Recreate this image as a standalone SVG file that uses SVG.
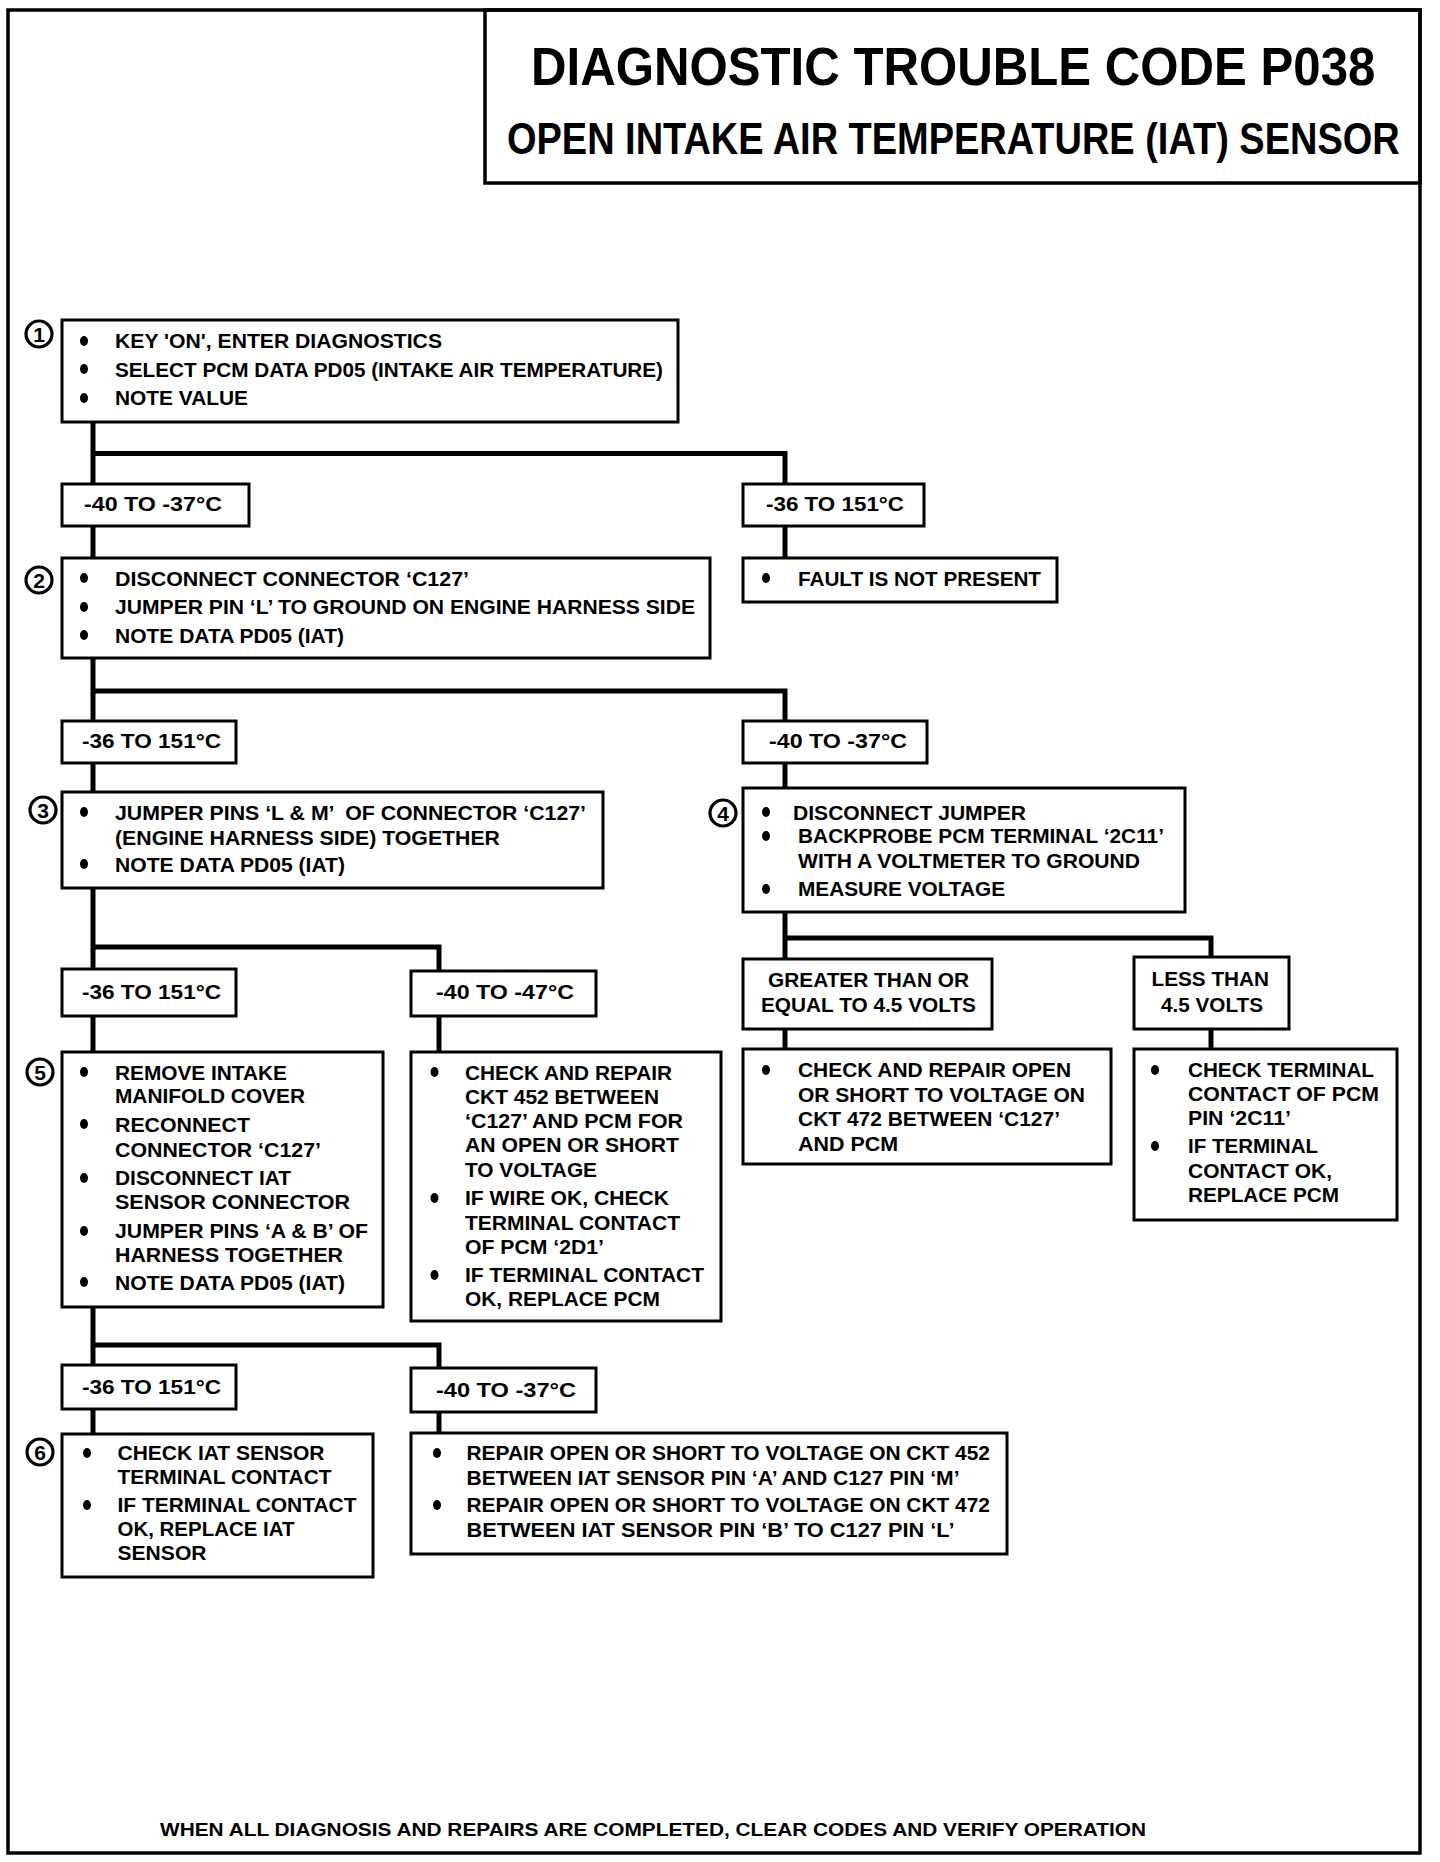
<svg xmlns="http://www.w3.org/2000/svg" width="1440" height="1862" viewBox="0 0 1440 1862">
<style>
.t{font-family:"Liberation Sans",Arial,Helvetica,sans-serif;font-weight:bold;font-size:21px;fill:#000}
.h1{font-size:54px}
.h2{font-size:44px}
.ft{font-size:19px}
.box{fill:#fff;stroke:#000;stroke-width:3}
.frame{fill:none;stroke:#000;stroke-width:3.5}
.conn{fill:none;stroke:#000;stroke-width:5;stroke-linejoin:miter}
.num{fill:#fff;stroke:#000;stroke-width:3.2}
.nt{font-family:"Liberation Sans",Arial,sans-serif;font-weight:bold;font-size:21px;fill:#000;text-anchor:middle}
.b{fill:#000}
</style>
<rect width="1440" height="1862" fill="#fff"/>
<rect class="frame" x="8" y="10" width="1412" height="1843"/>
<g id="title">
<rect class="frame" x="485" y="10" width="935" height="173"/>
<text class="t h1" transform="translate(531 85) scale(0.911 1)">DIAGNOSTIC TROUBLE CODE P038</text>
<text class="t h2" transform="translate(507 154) scale(0.863 1)">OPEN INTAKE AIR TEMPERATURE (IAT) SENSOR</text>
</g>
<g id="connectors">
<path class="conn" d="M93 422V484M93 526V558M93 453.5H785V484M785 526V558"/>
<path class="conn" d="M93 657V721M93 691H785V721M93 763V792M785 763V788"/>
<path class="conn" d="M93 888V969M93 947H439V971M93 1016V1052M439 1016V1052"/>
<path class="conn" d="M785 912V959M785 938H1211V957M785 1029V1049M1211 1029V1049"/>
<path class="conn" d="M93 1307V1365M93 1345H439V1368M93 1409V1434M439 1412V1433"/>
</g>
<g id="step1">
<rect class="box" x="62" y="320" width="616" height="102"/>
<circle class="num" cx="39" cy="334" r="13"/><text class="nt" x="39" y="341.5">1</text>
<ellipse class="b" cx="84" cy="341" rx="4" ry="5"/><ellipse class="b" cx="84" cy="369" rx="4" ry="5"/><ellipse class="b" cx="84" cy="398" rx="4" ry="5"/>
<text class="t" x="115" y="348" textLength="327" lengthAdjust="spacingAndGlyphs">KEY 'ON', ENTER DIAGNOSTICS</text>
<text class="t" x="115" y="377" textLength="548" lengthAdjust="spacingAndGlyphs">SELECT PCM DATA PD05 (INTAKE AIR TEMPERATURE)</text>
<text class="t" x="115" y="405" textLength="133" lengthAdjust="spacingAndGlyphs">NOTE VALUE</text>
</g>
<g id="r1a">
<rect class="box" x="62" y="484" width="187" height="42"/>
<text class="t" x="84" y="511" textLength="138" lengthAdjust="spacingAndGlyphs">-40 TO -37°C</text>
</g>
<g id="r1b">
<rect class="box" x="743" y="484" width="181" height="42"/>
<text class="t" x="766" y="511" textLength="138" lengthAdjust="spacingAndGlyphs">-36 TO 151°C</text>
</g>
<g id="fault">
<rect class="box" x="743" y="558" width="314" height="44"/>
<ellipse class="b" cx="766" cy="578" rx="4" ry="5"/>
<text class="t" x="798" y="586" textLength="243" lengthAdjust="spacingAndGlyphs">FAULT IS NOT PRESENT</text>
</g>
<g id="step2">
<rect class="box" x="62" y="558" width="648" height="100"/>
<circle class="num" cx="39" cy="580" r="13"/><text class="nt" x="39" y="587.5">2</text>
<ellipse class="b" cx="84" cy="578" rx="4" ry="5"/><ellipse class="b" cx="84" cy="607" rx="4" ry="5"/><ellipse class="b" cx="84" cy="635" rx="4" ry="5"/>
<text class="t" x="115" y="586" textLength="354" lengthAdjust="spacingAndGlyphs">DISCONNECT CONNECTOR ‘C127’</text>
<text class="t" x="115" y="614" textLength="580" lengthAdjust="spacingAndGlyphs">JUMPER PIN ‘L’ TO GROUND ON ENGINE HARNESS SIDE</text>
<text class="t" x="115" y="643" textLength="229" lengthAdjust="spacingAndGlyphs">NOTE DATA PD05 (IAT)</text>
</g>
<g id="r2a">
<rect class="box" x="62" y="721" width="174" height="42"/>
<text class="t" x="82" y="748" textLength="139" lengthAdjust="spacingAndGlyphs">-36 TO 151°C</text>
</g>
<g id="r2b">
<rect class="box" x="743" y="721" width="184" height="42"/>
<text class="t" x="769" y="748" textLength="138" lengthAdjust="spacingAndGlyphs">-40 TO -37°C</text>
</g>
<g id="step3">
<rect class="box" x="62" y="792" width="541" height="96"/>
<circle class="num" cx="43" cy="810" r="13"/><text class="nt" x="43" y="817.5">3</text>
<ellipse class="b" cx="84" cy="812" rx="4" ry="5"/><ellipse class="b" cx="84" cy="864" rx="4" ry="5"/>
<text class="t" x="115" y="820" textLength="471" lengthAdjust="spacingAndGlyphs" xml:space="preserve">JUMPER PINS ‘L &amp; M’  OF CONNECTOR ‘C127’</text>
<text class="t" x="115" y="845" textLength="385" lengthAdjust="spacingAndGlyphs">(ENGINE HARNESS SIDE) TOGETHER</text>
<text class="t" x="115" y="872" textLength="230" lengthAdjust="spacingAndGlyphs">NOTE DATA PD05 (IAT)</text>
</g>
<g id="step4">
<rect class="box" x="743" y="788" width="442" height="124"/>
<circle class="num" cx="723" cy="813" r="13"/><text class="nt" x="723" y="820.5">4</text>
<ellipse class="b" cx="766" cy="812" rx="4" ry="5"/><ellipse class="b" cx="766" cy="836" rx="4" ry="5"/><ellipse class="b" cx="766" cy="889" rx="4" ry="5"/>
<text class="t" x="793" y="820" textLength="233" lengthAdjust="spacingAndGlyphs">DISCONNECT JUMPER</text>
<text class="t" x="798" y="843" textLength="366" lengthAdjust="spacingAndGlyphs">BACKPROBE PCM TERMINAL ‘2C11’</text>
<text class="t" x="798" y="868" textLength="342" lengthAdjust="spacingAndGlyphs">WITH A VOLTMETER TO GROUND</text>
<text class="t" x="798" y="896" textLength="207" lengthAdjust="spacingAndGlyphs">MEASURE VOLTAGE</text>
</g>
<g id="v_ge">
<rect class="box" x="743" y="959" width="249" height="70"/>
<text class="t" x="768" y="987" textLength="201" lengthAdjust="spacingAndGlyphs">GREATER THAN OR</text>
<text class="t" x="761" y="1012" textLength="215" lengthAdjust="spacingAndGlyphs">EQUAL TO 4.5 VOLTS</text>
</g>
<g id="v_lt">
<rect class="box" x="1134" y="957" width="155" height="72"/>
<text class="t" x="1151.5" y="985.5" textLength="117.5" lengthAdjust="spacingAndGlyphs">LESS THAN</text>
<text class="t" x="1161" y="1012" textLength="102" lengthAdjust="spacingAndGlyphs">4.5 VOLTS</text>
</g>
<g id="ckt472">
<rect class="box" x="743" y="1049" width="368" height="115"/>
<ellipse class="b" cx="766" cy="1070" rx="4" ry="5"/>
<text class="t" x="798" y="1077" textLength="273" lengthAdjust="spacingAndGlyphs">CHECK AND REPAIR OPEN</text>
<text class="t" x="798" y="1102" textLength="287" lengthAdjust="spacingAndGlyphs">OR SHORT TO VOLTAGE ON</text>
<text class="t" x="798" y="1126" textLength="262" lengthAdjust="spacingAndGlyphs">CKT 472 BETWEEN ‘C127’</text>
<text class="t" x="798" y="1151" textLength="100" lengthAdjust="spacingAndGlyphs">AND PCM</text>
</g>
<g id="pcm2c11">
<rect class="box" x="1134" y="1049" width="263" height="171"/>
<ellipse class="b" cx="1155" cy="1070" rx="4" ry="5"/><ellipse class="b" cx="1155" cy="1146" rx="4" ry="5"/>
<text class="t" x="1188" y="1077" textLength="186" lengthAdjust="spacingAndGlyphs">CHECK TERMINAL</text>
<text class="t" x="1188" y="1101" textLength="191" lengthAdjust="spacingAndGlyphs">CONTACT OF PCM</text>
<text class="t" x="1188" y="1125" textLength="103" lengthAdjust="spacingAndGlyphs">PIN ‘2C11’</text>
<text class="t" x="1188" y="1153" textLength="130" lengthAdjust="spacingAndGlyphs">IF TERMINAL</text>
<text class="t" x="1188" y="1178" textLength="144" lengthAdjust="spacingAndGlyphs">CONTACT OK,</text>
<text class="t" x="1188" y="1202" textLength="151" lengthAdjust="spacingAndGlyphs">REPLACE PCM</text>
</g>
<g id="r3a">
<rect class="box" x="62" y="969" width="174" height="47"/>
<text class="t" x="82" y="999" textLength="139" lengthAdjust="spacingAndGlyphs">-36 TO 151°C</text>
</g>
<g id="r3b">
<rect class="box" x="411" y="971" width="185" height="45"/>
<text class="t" x="436" y="999" textLength="138" lengthAdjust="spacingAndGlyphs">-40 TO -47°C</text>
</g>
<g id="step5">
<rect class="box" x="62" y="1052" width="321" height="255"/>
<circle class="num" cx="40" cy="1072" r="13"/><text class="nt" x="40" y="1079.5">5</text>
<ellipse class="b" cx="84" cy="1072" rx="4" ry="5"/><ellipse class="b" cx="84" cy="1124" rx="4" ry="5"/><ellipse class="b" cx="84" cy="1178" rx="4" ry="5"/><ellipse class="b" cx="84" cy="1231" rx="4" ry="5"/><ellipse class="b" cx="84" cy="1282" rx="4" ry="5"/>
<text class="t" x="115" y="1080" textLength="172" lengthAdjust="spacingAndGlyphs">REMOVE INTAKE</text>
<text class="t" x="115" y="1103" textLength="190" lengthAdjust="spacingAndGlyphs">MANIFOLD COVER</text>
<text class="t" x="115" y="1132" textLength="135" lengthAdjust="spacingAndGlyphs">RECONNECT</text>
<text class="t" x="115" y="1157" textLength="206" lengthAdjust="spacingAndGlyphs">CONNECTOR ‘C127’</text>
<text class="t" x="115" y="1185" textLength="176" lengthAdjust="spacingAndGlyphs">DISCONNECT IAT</text>
<text class="t" x="115" y="1209" textLength="235" lengthAdjust="spacingAndGlyphs">SENSOR CONNECTOR</text>
<text class="t" x="115" y="1238" textLength="253" lengthAdjust="spacingAndGlyphs">JUMPER PINS ‘A &amp; B’ OF</text>
<text class="t" x="115" y="1262" textLength="228" lengthAdjust="spacingAndGlyphs">HARNESS TOGETHER</text>
<text class="t" x="115" y="1290" textLength="230" lengthAdjust="spacingAndGlyphs">NOTE DATA PD05 (IAT)</text>
</g>
<g id="ckt452">
<rect class="box" x="411" y="1052" width="310" height="269"/>
<ellipse class="b" cx="434.5" cy="1072" rx="4" ry="5"/><ellipse class="b" cx="434.5" cy="1198" rx="4" ry="5"/><ellipse class="b" cx="434.5" cy="1275" rx="4" ry="5"/>
<text class="t" x="465" y="1080" textLength="207" lengthAdjust="spacingAndGlyphs">CHECK AND REPAIR</text>
<text class="t" x="465" y="1104" textLength="194" lengthAdjust="spacingAndGlyphs">CKT 452 BETWEEN</text>
<text class="t" x="465" y="1128" textLength="218" lengthAdjust="spacingAndGlyphs">‘C127’ AND PCM FOR</text>
<text class="t" x="465" y="1152" textLength="214" lengthAdjust="spacingAndGlyphs">AN OPEN OR SHORT</text>
<text class="t" x="465" y="1177" textLength="132" lengthAdjust="spacingAndGlyphs">TO VOLTAGE</text>
<text class="t" x="465" y="1205" textLength="204" lengthAdjust="spacingAndGlyphs">IF WIRE OK, CHECK</text>
<text class="t" x="465" y="1230" textLength="215" lengthAdjust="spacingAndGlyphs">TERMINAL CONTACT</text>
<text class="t" x="465" y="1254" textLength="139" lengthAdjust="spacingAndGlyphs">OF PCM ‘2D1’</text>
<text class="t" x="465" y="1282" textLength="239" lengthAdjust="spacingAndGlyphs">IF TERMINAL CONTACT</text>
<text class="t" x="465" y="1306" textLength="195" lengthAdjust="spacingAndGlyphs">OK, REPLACE PCM</text>
</g>
<g id="r4a">
<rect class="box" x="62" y="1365" width="174" height="44"/>
<text class="t" x="82" y="1394" textLength="139" lengthAdjust="spacingAndGlyphs">-36 TO 151°C</text>
</g>
<g id="r4b">
<rect class="box" x="411" y="1368" width="185" height="44"/>
<text class="t" x="436" y="1397" textLength="140" lengthAdjust="spacingAndGlyphs">-40 TO -37°C</text>
</g>
<g id="step6">
<rect class="box" x="62" y="1434" width="311" height="143"/>
<circle class="num" cx="40" cy="1452" r="13"/><text class="nt" x="40" y="1459.5">6</text>
<ellipse class="b" cx="87" cy="1453" rx="4" ry="5"/><ellipse class="b" cx="87" cy="1505" rx="4" ry="5"/>
<text class="t" x="117.5" y="1460" textLength="207" lengthAdjust="spacingAndGlyphs">CHECK IAT SENSOR</text>
<text class="t" x="117.5" y="1484" textLength="214" lengthAdjust="spacingAndGlyphs">TERMINAL CONTACT</text>
<text class="t" x="117.5" y="1512" textLength="239" lengthAdjust="spacingAndGlyphs">IF TERMINAL CONTACT</text>
<text class="t" x="117.5" y="1536" textLength="177" lengthAdjust="spacingAndGlyphs">OK, REPLACE IAT</text>
<text class="t" x="117.5" y="1560" textLength="89" lengthAdjust="spacingAndGlyphs">SENSOR</text>
</g>
<g id="repair">
<rect class="box" x="411" y="1433" width="596" height="121"/>
<ellipse class="b" cx="437" cy="1453" rx="4" ry="5"/><ellipse class="b" cx="437" cy="1505" rx="4" ry="5"/>
<text class="t" x="466.5" y="1460" textLength="523.5" lengthAdjust="spacingAndGlyphs">REPAIR OPEN OR SHORT TO VOLTAGE ON CKT 452</text>
<text class="t" x="466.5" y="1485" textLength="493" lengthAdjust="spacingAndGlyphs">BETWEEN IAT SENSOR PIN ‘A’ AND C127 PIN ‘M’</text>
<text class="t" x="466.5" y="1512" textLength="523.5" lengthAdjust="spacingAndGlyphs">REPAIR OPEN OR SHORT TO VOLTAGE ON CKT 472</text>
<text class="t" x="466.5" y="1537" textLength="488" lengthAdjust="spacingAndGlyphs">BETWEEN IAT SENSOR PIN ‘B’ TO C127 PIN ‘L’</text>
</g>
<g id="footer">
<text class="t ft" x="160" y="1836" textLength="986" lengthAdjust="spacingAndGlyphs">WHEN ALL DIAGNOSIS AND REPAIRS ARE COMPLETED, CLEAR CODES AND VERIFY OPERATION</text>
</g>
</svg>
